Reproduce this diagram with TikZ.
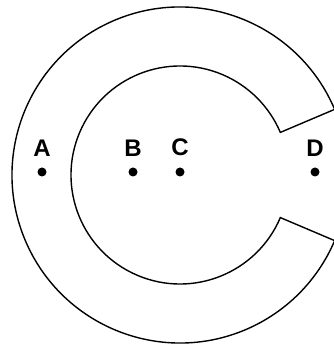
\documentclass[tikz,border=0pt]{standalone}
\usepackage{fontspec}
\setmainfont{Liberation Sans}
\usetikzlibrary{positioning, calc}

\begin{document}
\begin{tikzpicture}[
    x=1pt, y=1pt,
    node distance=11pt,
    ring/.style={draw, line width=1.4pt, line join=miter},
    dot/.style={circle, fill, inner sep=0pt, minimum size=9pt},
    lbl/.style={inner sep=0pt, font=\fontsize{24}{24}\selectfont\bfseries}
]
\useasboundingbox (0,0) rectangle (333,347);
\coordinate (O) at (180,172);

% ---- the C-shaped ring ----
\draw[ring] ($(O)+(23:168)$) arc[start angle=23, end angle=337, radius=168]
    -- ($(O)+(-23:109)$) arc[start angle=-23, end angle=-337, radius=109]
    -- cycle;

% ---- points ----
\node[dot] (a) at (42,175) {};
\node[dot] (b) at (133,175) {};
\node[dot] (c) at (180,175) {};
\node[dot] (d) at (315,175) {};

\node[lbl, above=of a] (la) {A};
\node[lbl, above=of b] (lb) {B};
\node[lbl, above=of c] (lc) {C};
\node[lbl, above=of d] (ld) {D};
\end{tikzpicture}
\end{document}
